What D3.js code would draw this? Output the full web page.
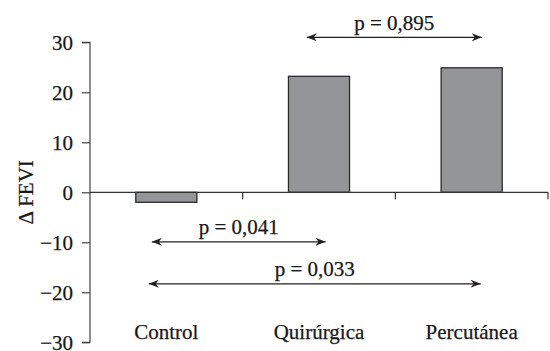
<!DOCTYPE html>
<html>
<head>
<meta charset="utf-8">
<script src="https://cdn.jsdelivr.net/npm/d3@7"></script>
<style>
  body { margin: 0; background: #fff; }
  text { font-family: "Liberation Serif", "Times New Roman", serif; fill: #1a1718; stroke: #1a1718; stroke-width: 0.25px; }
</style>
</head>
<body>
<div class="container"></div>
<script>
var categories = ['Control', 'Quirúrgica', 'Percutánea'];
var values = [-2, 23.2, 24.9];
var yTicks = [30, 20, 10, 0, -10, -20, -30];

// comparisons: span in category units (0 = Control centre), height in FEVI units
var pLabels = ['p = 0,895', 'p = 0,041', 'p = 0,033'];
var pFrom = [0.92, -0.095, -0.115];
var pTo = [2.066, 1.043, 2.059];
var pLevel = [31, -9.9, -18.3];

var translate = function (x, y) {
    return 'translate(' + x + ', ' + y + ')';
};

var visualize = function () {
    const WIDTH = 550;
    const HEIGHT = 351;
    const LEFT = 90;
    const RIGHT = 548;
    const TOP = 42.3;
    const BOTTOM = 342.3;
    const FONT = 21;
    const INK = '#231f20';

    var svg = d3.select('.container')
        .append('svg')
        .attr('width', WIDTH)
        .attr('height', HEIGHT);

    var defs = svg.append('defs');
    ['start', 'end'].forEach(function (k) {
        defs.append('marker')
            .attr('id', 'head-' + k)
            .attr('viewBox', '0 0 10 8')
            .attr('refX', k === 'end' ? 10 : 0)
            .attr('refY', 4)
            .attr('markerWidth', 12)
            .attr('markerHeight', 8)
            .attr('markerUnits', 'userSpaceOnUse')
            .attr('orient', 'auto')
            .append('path')
            .attr('d', k === 'end' ? 'M0,0 L10,4 L0,8 L3,4 Z' : 'M10,0 L0,4 L10,8 L7,4 Z')
            .attr('fill', INK);
    });

    var xScale = d3.scaleBand().domain(categories).range([LEFT, RIGHT])
        .paddingInner(0.6).paddingOuter(0.3);
    var step = xScale.step();
    var xIdx = d3.scaleLinear().domain([0, 1])
        .range([xScale(categories[0]) + xScale.bandwidth() / 2,
                xScale(categories[0]) + xScale.bandwidth() / 2 + step]);
    var yScale = d3.scaleLinear().domain([-30, 30]).range([BOTTOM, TOP]);

    // y axis
    var yAxis = d3.axisLeft(yScale)
        .tickValues(yTicks)
        .tickSize(8)
        .tickPadding(9)
        .tickFormat(function (d) { return d < 0 ? '\u2212' + Math.abs(d) : d; });
    var yg = svg.append('g')
        .attr('transform', translate(LEFT, 0))
        .call(yAxis);
    yg.select('.domain').attr('d', 'M-8,' + TOP + 'H0V' + BOTTOM + 'H-8').attr('stroke', '#444').attr('stroke-width', 1.2);
    yg.selectAll('.tick line').attr('stroke', '#444').attr('stroke-width', 1.2);
    yg.selectAll('.tick text')
        .attr('font-size', FONT)
        .attr('font-family', '"Liberation Serif", serif');

    svg.append('text')
        .attr('transform', translate(33, yScale(0)) + ' rotate(-90)')
        .attr('text-anchor', 'middle')
        .attr('font-size', FONT)
        .text('\u0394 FEVI');

    // bars
    svg.append('g')
        .selectAll('rect')
        .data(values)
        .enter()
        .append('rect')
        .attr('x', function (d, i) { return xScale(categories[i]); })
        .attr('width', xScale.bandwidth())
        .attr('y', function (d) { return yScale(Math.max(0, d)); })
        .attr('height', function (d) { return Math.abs(yScale(d) - yScale(0)); })
        .attr('fill', '#939598')
        .attr('stroke', '#2b2b2b')
        .attr('stroke-width', 1.3);

    // zero line with category ticks
    var xAxis = d3.axisBottom(xScale).tickSize(0).tickPadding(0);
    var xg = svg.append('g')
        .attr('transform', translate(0, yScale(0)))
        .call(xAxis);
    xg.select('.domain').attr('d', 'M' + LEFT + ',0H' + RIGHT).attr('stroke', '#333').attr('stroke-width', 1.2);
    xg.selectAll('.tick text').remove();
    xg.selectAll('.tick line').remove();
    xg.selectAll('.sep')
        .data(categories)
        .enter()
        .append('line')
        .attr('x1', function (d) { return xScale(d) + xScale.bandwidth() / 2 + step / 2; })
        .attr('x2', function (d) { return xScale(d) + xScale.bandwidth() / 2 + step / 2; })
        .attr('y1', 0)
        .attr('y2', 7)
        .attr('stroke', '#333')
        .attr('stroke-width', 1.2);

    // category labels at bottom
    svg.append('g')
        .selectAll('text')
        .data(categories)
        .enter()
        .append('text')
        .attr('x', function (d) { return xScale(d) + xScale.bandwidth() / 2; })
        .attr('y', 339)
        .attr('text-anchor', 'middle')
        .attr('font-size', FONT)
        .text(function (d) { return d; });

    // comparison arrows
    var cmp = svg.append('g');
    pLabels.forEach(function (label, i) {
        var x1 = xIdx(pFrom[i]);
        var x2 = xIdx(pTo[i]);
        var y = yScale(pLevel[i]);
        cmp.append('line')
            .attr('x1', x1).attr('x2', x2)
            .attr('y1', y).attr('y2', y)
            .attr('stroke', INK)
            .attr('stroke-width', 1.2)
            .attr('marker-start', 'url(#head-start)')
            .attr('marker-end', 'url(#head-end)');
        cmp.append('text')
            .attr('x', (x1 + x2) / 2)
            .attr('y', y - 7.5)
            .attr('text-anchor', 'middle')
            .attr('font-size', FONT)
            .text(label);
    });
};

window.onload = visualize;
</script>
</body>
</html>
